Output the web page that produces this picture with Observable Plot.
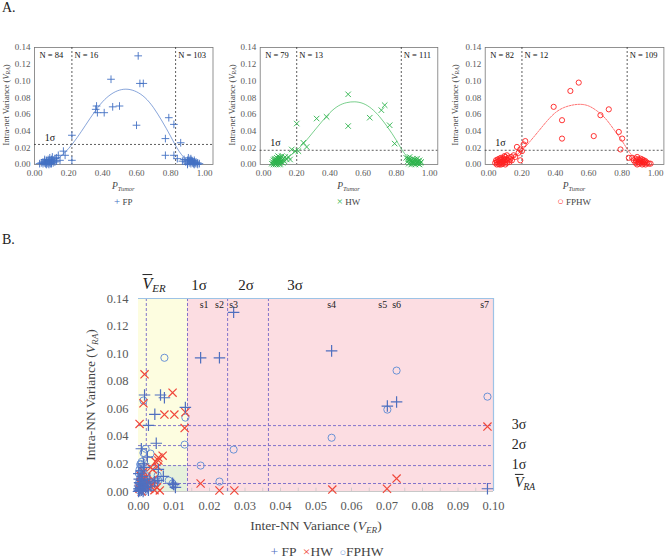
<!DOCTYPE html>
<html><head><meta charset="utf-8">
<script src="https://cdn.jsdelivr.net/npm/d3@7"></script>
<script src="https://cdn.jsdelivr.net/npm/@observablehq/plot@0.6"></script>
<style>
body{margin:0;background:#fff;}
#root{position:relative;width:669px;height:558px;overflow:hidden;font-family:'Liberation Serif','Times New Roman','DejaVu Serif',serif;}
.abs{position:absolute;white-space:nowrap;line-height:1;}
.abs sub{font-size:68%;vertical-align:-0.28em;line-height:1;}
svg{overflow:visible;}
svg text{font-family:'Liberation Serif','Times New Roman','DejaVu Serif',serif;}
</style></head><body><div id="root"></div>
<script>
// ---------- Panel A data (P_Tumor, V_RA) ----------
const fpPoints = [
 [0.03,0.001],[0.04,0.002],[0.05,0.001],[0.05,0.003],[0.06,0.002],[0.06,0.004],[0.065,0.001],[0.07,0.003],[0.07,0.005],[0.075,0.002],
 [0.08,0.001],[0.08,0.004],[0.08,0.006],[0.085,0.003],[0.09,0.002],[0.09,0.005],[0.09,0.008],[0.095,0.004],[0.10,0.001],[0.10,0.003],
 [0.10,0.006],[0.105,0.009],[0.11,0.002],[0.11,0.005],[0.12,0.003],[0.12,0.007],[0.13,0.004],[0.13,0.008],[0.14,0.011],[0.15,0.005],
 [0.17,0.016],[0.18,0.011],[0.22,0.035],[0.22,0.005],[0.07,0.0],[0.085,0.0],[0.06,0.006],[0.095,0.001],
 [0.36,0.066],[0.365,0.070],[0.37,0.062],[0.41,0.062],[0.45,0.102],[0.46,0.069],[0.50,0.070],[0.60,0.047],[0.61,0.130],[0.62,0.097],[0.64,0.097],
 [0.77,0.031],[0.77,0.011],[0.79,0.056],[0.82,0.048],[0.82,0.011],[0.84,0.007],[0.86,0.026],[0.87,0.004],
 [0.88,0.006],[0.89,0.003],[0.90,0.001],[0.90,0.005],[0.905,0.008],[0.91,0.002],[0.91,0.004],[0.915,0.006],[0.92,0.001],[0.92,0.003],
 [0.925,0.005],[0.93,0.002],[0.93,0.004],[0.935,0.001],[0.94,0.003],[0.94,0.005],[0.945,0.002],[0.95,0.001],[0.95,0.003],[0.96,0.002],
 [0.96,0.0],[0.97,0.001],[0.90,0.0],[0.92,0.007],[0.94,0.0]
];
const hwPoints = [
 [0.05,0.001],[0.055,0.003],[0.06,0.0],[0.06,0.005],[0.065,0.002],[0.07,0.004],[0.07,0.007],[0.075,0.001],[0.075,0.006],[0.08,0.003],
 [0.08,0.008],[0.085,0.0],[0.085,0.005],[0.09,0.002],[0.09,0.007],[0.095,0.004],[0.095,0.009],[0.10,0.001],[0.10,0.006],[0.105,0.003],
 [0.105,0.008],[0.11,0.005],[0.11,0.01],[0.115,0.002],[0.12,0.007],[0.125,0.004],[0.13,0.009],[0.065,0.006],[0.072,0.0],[0.088,0.01],
 [0.098,0.0],[0.14,0.006],[0.15,0.009],[0.16,0.006],[0.17,0.018],[0.19,0.016],[0.20,0.049],[0.21,0.016],[0.24,0.026],[0.26,0.021],
 [0.32,0.055],[0.38,0.057],[0.51,0.084],[0.51,0.046],[0.64,0.056],[0.71,0.065],[0.73,0.071],[0.76,0.047],[0.79,0.025],
 [0.86,0.008],[0.87,0.004],[0.875,0.001],[0.88,0.006],[0.885,0.003],[0.89,0.0],[0.89,0.005],[0.895,0.002],[0.90,0.007],[0.90,0.004],
 [0.905,0.001],[0.91,0.006],[0.91,0.003],[0.915,0.0],[0.92,0.005],[0.92,0.002],[0.925,0.007],[0.93,0.004],[0.93,0.001],[0.935,0.003],
 [0.94,0.005],[0.94,0.0],[0.945,0.002],[0.88,0.009],[0.87,0.007],[0.95,0.003]
];
const fphwPoints = [
 [0.04,0.002],[0.045,0.005],[0.05,0.0],[0.05,0.003],[0.055,0.006],[0.06,0.001],[0.06,0.004],[0.065,0.007],[0.07,0.002],[0.07,0.005],
 [0.075,0.0],[0.075,0.008],[0.08,0.003],[0.08,0.006],[0.085,0.001],[0.085,0.004],[0.09,0.007],[0.09,0.002],[0.095,0.005],[0.10,0.0],
 [0.10,0.003],[0.10,0.009],[0.105,0.006],[0.11,0.002],[0.11,0.011],[0.115,0.005],[0.12,0.008],[0.125,0.003],[0.13,0.006],[0.135,0.009],
 [0.14,0.005],[0.15,0.011],[0.16,0.009],[0.17,0.021],[0.18,0.014],[0.19,0.018],[0.19,0.005],[0.20,0.016],[0.21,0.024],[0.22,0.028],
 [0.065,0.0],[0.095,0.01],
 [0.39,0.069],[0.49,0.088],[0.54,0.098],[0.44,0.053],[0.44,0.031],[0.63,0.034],[0.67,0.059],[0.72,0.066],[0.78,0.039],[0.80,0.031],[0.79,0.018],
 [0.84,0.008],[0.86,0.008],[0.87,0.005],[0.88,0.002],[0.88,0.007],[0.885,0.004],[0.89,0.0],[0.89,0.009],[0.895,0.006],[0.90,0.003],
 [0.90,0.001],[0.905,0.005],[0.91,0.002],[0.91,0.007],[0.915,0.004],[0.92,0.0],[0.92,0.006],[0.925,0.003],[0.93,0.005],[0.93,0.001],
 [0.935,0.003],[0.94,0.0],[0.94,0.004],[0.95,0.002],[0.96,0.001],[0.97,0.001]
];
// fitted trend curves
const curveP = [0.10,0.15,0.20,0.25,0.30,0.35,0.40,0.45,0.50,0.55,0.60,0.65,0.70,0.75,0.80,0.85,0.90,0.93];
const fpCurve   = [0.002,0.009,0.019,0.032,0.047,0.062,0.075,0.084,0.089,0.090,0.087,0.080,0.068,0.052,0.034,0.016,0.004,0.000];
const hwCurve   = [0.003,0.009,0.017,0.027,0.039,0.051,0.062,0.070,0.074,0.075,0.073,0.067,0.057,0.044,0.029,0.013,0.003,0.000];
const fphwCurve = [0.002,0.009,0.017,0.028,0.040,0.052,0.062,0.068,0.071,0.072,0.070,0.064,0.055,0.042,0.028,0.013,0.003,0.000];
const topXTicks = [0,0.2,0.4,0.6,0.8,1.0];
const topYTicks = [0,0.02,0.04,0.06,0.08,0.10,0.12,0.14];

// ---------- Panel B data (V_ER, V_RA) ----------
const fpB = [
 [0.0268,0.130],[0.0175,0.097],[0.0228,0.097],[0.0544,0.102],[0.0701,0.062],[0.0727,0.065],[0.0983,0.002],
 [0.0017,0.070],[0.0062,0.070],[0.0073,0.068],[0.0046,0.056],[0.0132,0.061],[0.0028,0.048],[0.005,0.035],
 [0.0008,0.031],[0.0025,0.025],[0.0014,0.020],[0.0056,0.016],[0.007,0.011],[0.0096,0.006],[0.0104,0.003],[0.0054,0.008],[0.0099,0.005],
 [0,0],[0.0002,0.001],[0.0004,0.002],[0.0003,0.004],[0.0006,0.003],[0.0008,0.001],[0.001,0.005],[0.0012,0.002],[0.0005,0.006],
 [0.0009,0.008],[0.0015,0.004],[0.0018,0.007],[0.0002,0.009],[0.0011,0.011],[0.002,0.003],[0.0025,0.006],[0.003,0.009],[0.0035,0.004],
 [0.0045,0.007],[0.0028,0.001],[0.0001,0.013],[0.0007,0.015],[0.0016,0.0175],[0.0004,0.0005],[0.0013,0.0],[0.0001,0.002],[0.0003,0.0065]
];
const hwB = [
 [0.0017,0.085],[0.0014,0.064],[0.0096,0.0717],[0.0073,0.0558],[0.0101,0.0558],[0.0132,0.0575],[0.0003,0.049],[0.013,0.046],
 [0.0068,0.026],[0.0056,0.0246],[0.0048,0.0217],[0.0056,0.0225],[0.0054,0.018],[0.004,0.016],[0.0034,0.0174],
 [0.0175,0.0058],[0.0228,0.0007],[0.027,0.0007],[0.0546,0.0014],[0.070,0.002],[0.0727,0.0094],[0.0983,0.0471],
 [0.0003,0.002],[0.0008,0.005],[0.0012,0.009],[0.0018,0.004],[0.0025,0.007],[0.003,0.002],[0.0037,0.005],[0.0045,0.001],
 [0.0052,0.003],[0.0006,0.0115],[0.0014,0.0145],[0.0022,0.0105],[0.006,0.0008],[0.0041,0.0085],[0.0009,0.0]
];
const fphwB = [
 [0.0073,0.097],[0.0014,0.066],[0.0132,0.0536],[0.013,0.034],[0.0175,0.0188],[0.0228,0.0072],[0.0268,0.0304],[0.0544,0.039],
 [0.0701,0.0594],[0.0727,0.0877],[0.0983,0.0688],
 [0.002,0.031],[0.0014,0.028],[0.0034,0.0275],[0.0006,0.020],[0.0008,0.018],[0.0054,0.0116],[0.0085,0.008],[0.0096,0.0058],
 [0.0099,0.0043],[0.0056,0.008],[0.0048,0.008],
 [0.0001,0.001],[0.0003,0.003],[0.0005,0.005],[0.0002,0.007],[0.0007,0.002],[0.0009,0.004],[0.0004,0.009],[0.0011,0.006],
 [0.0013,0.001],[0.0006,0.011],[0.0015,0.009],[0.0018,0.003],[0.0001,0.013],[0.0008,0.0145],[0.0003,0.016],[0.0012,0.012],
 [0.002,0.006],[0.0024,0.011],[0.0016,0.0],[0.0,0.0045],[0.003,0.004],[0.0005,0.0195],[0.0009,0.0215],[0.0002,0.0025],[0.0006,0.0075]
];
const verThresholds = [0.0022,0.0138,0.0251,0.0366];   // mean, 1σ, 2σ, 3σ of V_ER
const vraThresholds = [0.0058,0.0188,0.0333,0.0478];   // mean, 1σ, 2σ, 3σ of V_RA
const sampleNames = ["s1","s2","s3","s4","s5","s6","s7"];
const sampleVER   = [0.0185,0.0228,0.0268,0.0544,0.0688,0.0727,0.0975];
const bXTicks = [0,0.01,0.02,0.03,0.04,0.05,0.06,0.07,0.08,0.09,0.10];
const bMinorTicks = [0.005,0.01,0.015,0.02,0.025,0.03,0.035,0.04,0.045,0.05,0.055,0.06,0.065,0.07,0.075,0.08,0.085,0.09,0.095];
const bYTicks = [0,0.02,0.04,0.06,0.08,0.10,0.12,0.14];

// ---------- helpers ----------
const SERIF = "'Liberation Serif','Times New Roman','DejaVu Serif',serif";
const root = document.getElementById("root");
const pair = a => a.map(([x,y]) => ({x, y}));
const f2 = d3.format(".2f");
function label(html, x, y, size, opt = {}) {
  const d = document.createElement("div");
  d.className = "abs";
  d.innerHTML = html;
  d.style.left = x + "px"; d.style.top = y + "px"; d.style.fontSize = size + "px";
  d.style.color = opt.color || "#222";
  d.style.transform = "translate(" + (opt.ax ?? -50) + "%,-50%)" + (opt.rotate ? " rotate(-90deg)" : "");
  root.appendChild(d);
  return d;
}
function place(el, left, top) {
  el.style.position = "absolute"; el.style.left = left + "px"; el.style.top = top + "px";
  root.appendChild(el);
}

// ---------- Panel A ----------
const panels = [
  {name:"FP", glyph:"+", left:0, width:222, ml:34, mr:9.5, xmin:0, pts:fpPoints, curve:fpCurve, color:"#4472c4", symbol:"plus",
   vlines:[0.22,0.83], sigma:0.024, N:["N = 84","N = 16","N = 103"], dash:null},
  {name:"HW", glyph:"×", left:225, width:222, ml:34.7, mr:9.7, xmin:-0.02, pts:hwPoints, curve:hwCurve, color:"#2db34c", symbol:"times",
   vlines:[0.20,0.83], sigma:0.017, N:["N = 79","N = 13","N = 111"], dash:null},
  {name:"FPHW", glyph:"○", left:448, width:221, ml:36.7, mr:5.6, xmin:-0.02, pts:fphwPoints, curve:fphwCurve, color:"#ff2020", symbol:"circle",
   vlines:[0.20,0.83], sigma:0.017, N:["N = 82","N = 12","N = 109"], dash:"2,1.2"}
];
for (const p of panels) {
  const nl = [{x: p.xmin + 0.03, t: p.N[0]}, {x: p.vlines[0] + 0.015, t: p.N[1]}, {x: p.vlines[1] + 0.015, t: p.N[2]}];
  const curve = curveP.map((x, i) => ({x, y: p.curve[i]}));
  const chart = Plot.plot({
    width: p.width, height: 200, marginLeft: p.ml, marginRight: p.mr, marginTop: 47, marginBottom: 36,
    x: {domain: [p.xmin, 1.05], ticks: topXTicks, tickFormat: f2, tickSize: 0, tickPadding: 5, label: null},
    y: {domain: [0, 0.14], ticks: topYTicks, tickFormat: f2, tickSize: 0, tickPadding: 4, label: null},
    style: {fontFamily: SERIF, fontSize: "9px", color: "#595959", background: "transparent"},
    marks: [
      Plot.frame({stroke: "#777", strokeWidth: 0.8}),
      Plot.ruleX(p.vlines, {stroke: "#333", strokeDasharray: "2,2", strokeWidth: 0.8}),
      Plot.ruleY([p.sigma], {stroke: "#333", strokeDasharray: "2,2", strokeWidth: 0.8}),
      Plot.line(curve, {x: "x", y: "y", stroke: p.color, strokeWidth: 0.8, curve: "natural", strokeOpacity: 0.8, strokeDasharray: p.dash}),
      Plot.dot(pair(p.pts), {x: "x", y: "y", symbol: p.symbol, stroke: p.color, r: 2.6, strokeWidth: 0.9}),
      Plot.text(nl, {x: "x", y: 0.14, text: "t", textAnchor: "start", lineAnchor: "top", dy: 4, fill: "#111", fontSize: 8.5}),
      Plot.text([p.sigma], {x: p.xmin + 0.06, y: d => d, text: () => "1σ", textAnchor: "start", dy: -7, fill: "#111", fontSize: 10})
    ]
  });
  place(chart, p.left, 0);
  const cx = p.left + (p.ml + p.width - p.mr) / 2;
  label('Intra-net Variance (<i>V</i><sub><i>RA</i></sub>)', p.left + (p.left === 0 ? 7 : 8), 105, 8.5, {rotate: true, color: "#444"});
  label('<i>P</i><sub><i>Tumor</i></sub>', cx, 187, 9.5, {color: "#444"});
  label('<span style="color:' + p.color + ';font-size:120%">' + p.glyph + '</span> ' + p.name, cx, 201, 9, {color: "#444"});
}
label("A.", 2, 8, 14, {ax: 0});
label("B.", 2, 240, 14, {ax: 0});

// ---------- Panel B ----------
const regions = [
  {x1: 0, x2: verThresholds[1], y1: 0, y2: 0.14, fill: "#fdfde0"},
  {x1: verThresholds[1], x2: 0.10, y1: 0, y2: 0.14, fill: "#fcdde2"},
  {x1: 0, x2: verThresholds[1], y1: 0, y2: vraThresholds[1], fill: "#e6f1dc"}
];
const sLabels = sampleNames.map((t, i) => ({t, x: sampleVER[i]}));
const B = Plot.plot({
  width: 669, height: 280, marginLeft: 138, marginRight: 176, marginTop: 38, marginBottom: 49,
  x: {domain: [0, 0.10], ticks: bXTicks, tickFormat: f2, tickSize: 0, tickPadding: 10, label: null},
  y: {domain: [0, 0.14], ticks: bYTicks, tickFormat: f2, tickSize: 0, tickPadding: 10, label: null},
  style: {fontFamily: SERIF, fontSize: "12.5px", color: "#595959", background: "transparent"},
  marks: [
    Plot.rect(regions, {x1: "x1", x2: "x2", y1: "y1", y2: "y2", fill: "fill"}),
    Plot.ruleY([0], {stroke: "#c8c8c8", strokeWidth: 1}),
    Plot.ruleX(bMinorTicks, {y1: 0, y2: 0.0024, stroke: "#c8c8c8", strokeWidth: 0.8}),
    Plot.ruleX(verThresholds, {stroke: "#7468c8", strokeDasharray: "3,2", strokeWidth: 0.9}),
    Plot.ruleY(vraThresholds, {x1: 0, x2: 0.10, stroke: "#7468c8", strokeDasharray: "3,2", strokeWidth: 0.9}),
    Plot.ruleY([0.14], {x1: 0, x2: 0.10, stroke: "#9dc3e6", strokeWidth: 1.2}),
    Plot.ruleX([0.10], {y1: 0, y2: 0.14, stroke: "#9dc3e6", strokeWidth: 1.2}),
    Plot.dot(pair(fphwB), {x: "x", y: "y", symbol: "circle", stroke: "#6b93d6", r: 3.6, strokeWidth: 1}),
    Plot.dot(pair(hwB), {x: "x", y: "y", symbol: "times", stroke: "#f0473a", r: 3.8, strokeWidth: 1.2}),
    Plot.dot(pair(fpB), {x: "x", y: "y", symbol: "plus", stroke: "#4f6fbf", r: 3.8, strokeWidth: 1.2}),
    Plot.text(sLabels, {x: "x", y: 0.14, text: "t", lineAnchor: "top", dy: 2, fill: "#222", fontSize: 10})
  ]
});
place(B, 0, 260);

// annotations for panel B
label('<span style="text-decoration:overline"><i>V</i></span><sub><i>ER</i></sub>', 154, 285, 16);
label('1σ', 199, 285, 15);
label('2σ', 246, 285, 15);
label('3σ', 295, 285, 15);
label('3σ', 519, 425, 14);
label('2σ', 519, 445, 14);
label('1σ', 519, 465, 14);
label('<span style="text-decoration:overline"><i>V</i></span><sub><i>RA</i></sub>', 525, 484, 14);
label('Intra-NN Variance (<i>V</i><sub><i>RA</i></sub>)', 92, 395, 13.5, {rotate: true, color: "#444"});
label('Inter-NN Variance (<i>V</i><sub><i>ER</i></sub>)', 316, 527, 13.5, {color: "#444"});
label('<span style="color:#4f6fbf">+</span> FP &nbsp;<span style="color:#f0473a">×</span>HW &nbsp;<span style="color:#6b93d6;font-size:80%">○</span>FPHW', 327, 552, 13.5, {color: "#444"});
</script></body></html>
